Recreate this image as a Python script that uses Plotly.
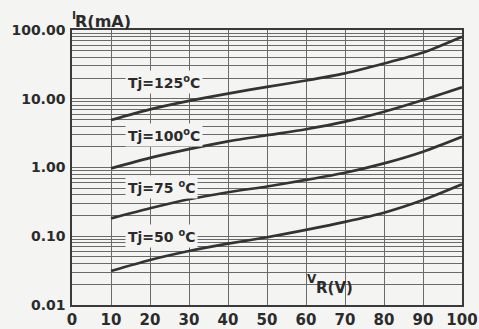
import math
import plotly.graph_objects as go

# Data
v_r = [10, 20, 30, 40, 50, 60, 70, 80, 90, 100]
i_125 = [4.9, 7.0, 9.3, 11.9, 14.9, 18.4, 23.4, 32.5, 47.0, 80.0]
i_100 = [0.97, 1.38, 1.85, 2.40, 2.95, 3.60, 4.64, 6.48, 9.6, 14.7]
i_75 = [0.182, 0.255, 0.345, 0.437, 0.530, 0.660, 0.84, 1.15, 1.70, 2.8]
i_50 = [0.0313, 0.0452, 0.061, 0.078, 0.0966, 0.124, 0.162, 0.220, 0.336, 0.57]

series_names = ["Tj=125<sup>o</sup>C", "Tj=100<sup>o</sup>C", "Tj=75 <sup>o</sup>C", "Tj=50 <sup>o</sup>C"]
label_v = [13.6, 13.6, 13.6, 13.6]
label_i = [17.5, 2.95, 0.52, 0.102]

x_ticks = [0, 10, 20, 30, 40, 50, 60, 70, 80, 90, 100]
y_tickvals = [0.01, 0.1, 1, 10, 100]
y_ticktext = ["0.01", "0.10", "1.00", "10.00", "100.00"]

BG = "#f4f4f2"
INK = "#2b2b2b"
GRID = "#6a6a6a"
FONT = "DejaVu Sans"

minor_vals = [m * 10 ** e for e in range(-2, 2) for m in range(2, 10)]

fig = go.Figure()
for ys in [i_125, i_100, i_75, i_50]:
    fig.add_trace(go.Scatter(x=v_r, y=ys, mode="lines",
                             line=dict(color="#333333", width=2.7, shape="spline", smoothing=0.7),
                             showlegend=False, hoverinfo="skip"))

# plot-area geometry helpers (paper coords)
L, R, T, B = 72, 17, 30, 24
W, H = 479, 329
pw, ph = W - L - R, H - T - B


def px(xp):
    return (xp - L) / pw


def py(yp):
    return (H - B - yp) / ph


annotations = []
for name, xv, yv in zip(series_names, label_v, label_i):
    annotations.append(dict(x=xv, y=math.log10(yv), xref="x", yref="y",
                            text="<b>" + name + "</b>", showarrow=False,
                            font=dict(family=FONT, size=14, color=INK),
                            bgcolor=BG, borderpad=2, xanchor="left", yanchor="middle"))

# y-axis title I_R(mA)
annotations.append(dict(x=px(70), y=py(16), xref="paper", yref="paper", text="<b>I</b>",
                        showarrow=False, xanchor="left", yanchor="middle",
                        font=dict(family=FONT, size=11, color=INK)))
annotations.append(dict(x=px(73), y=py(21), xref="paper", yref="paper", text="<b>R(mA)</b>",
                        showarrow=False, xanchor="left", yanchor="middle",
                        font=dict(family=FONT, size=16, color=INK)))
# x-axis title V_R(V)
annotations.append(dict(x=px(305), y=py(279), xref="paper", yref="paper", text="<b>V</b>",
                        showarrow=False, xanchor="left", yanchor="middle",
                        font=dict(family=FONT, size=12, color=INK)))
annotations.append(dict(x=px(314), y=py(288), xref="paper", yref="paper", text="<b>R(V)</b>",
                        showarrow=False, xanchor="left", yanchor="middle",
                        font=dict(family=FONT, size=15, color=INK)))

shapes = [dict(type="rect", xref="paper", yref="paper", x0=px(302), x1=px(357),
               y0=py(302), y1=py(268), fillcolor=BG, line=dict(width=0), layer="between")]

fig.update_layout(
    width=W, height=H,
    margin=dict(l=L, r=R, t=T, b=B, autoexpand=False),
    paper_bgcolor=BG, plot_bgcolor=BG,
    annotations=annotations, shapes=shapes,
    xaxis=dict(range=[0, 100], tickmode="array", tickvals=x_ticks,
               ticktext=["<b>%d</b>" % v for v in x_ticks],
               showgrid=True, gridcolor=GRID, gridwidth=1,
               showline=True, linecolor="#3a3a3a", linewidth=1.5, mirror=True,
               ticks="", tickfont=dict(family=FONT, size=15, color=INK),
               zeroline=False, fixedrange=True, automargin=False),
    yaxis=dict(type="log", range=[-2, 2], tickmode="array", tickvals=y_tickvals,
               ticktext=["<b>%s</b>" % t for t in y_ticktext],
               showgrid=True, gridcolor=GRID, gridwidth=1,
               minor=dict(tickmode="array", tickvals=minor_vals, showgrid=True,
                          gridcolor=GRID, gridwidth=1, ticks=""),
               showline=True, linecolor="#3a3a3a", linewidth=1.5, mirror=True,
               ticks="", tickfont=dict(family=FONT, size=14, color=INK),
               ticklabelstandoff=2,
               zeroline=False, fixedrange=True, automargin=False),
)

fig.write_html("out.html", config={"displayModeBar": False},
               post_script="document.body.style.margin='0';document.body.style.background='%s';" % BG)
